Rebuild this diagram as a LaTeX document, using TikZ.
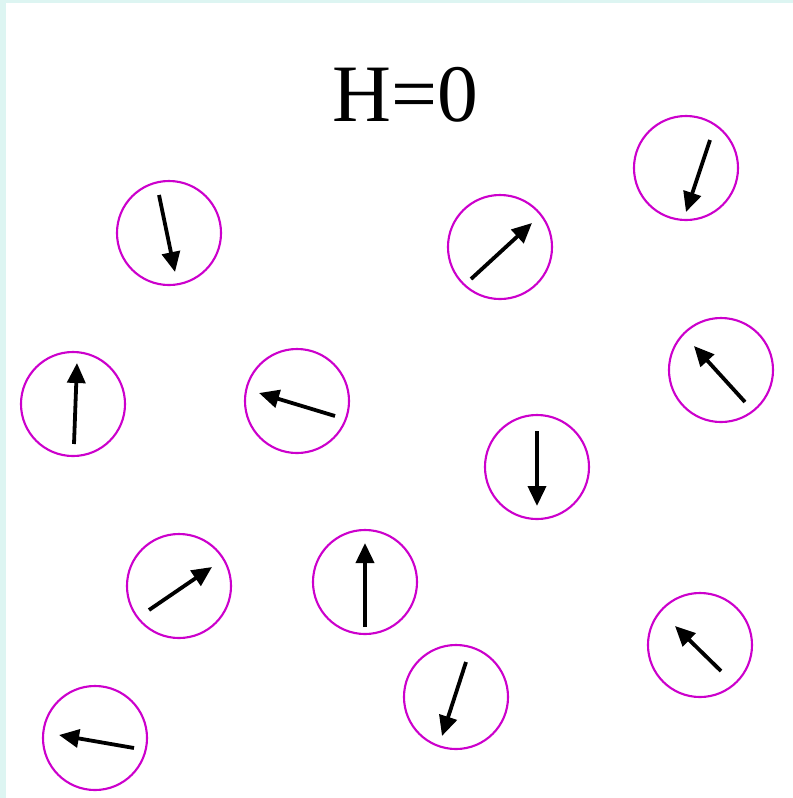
\documentclass[tikz,border=0pt]{standalone}
\usepackage{fontspec}
\setmainfont{Liberation Serif}
\usetikzlibrary{arrows.meta}
\definecolor{spinring}{HTML}{CC00CC}
\definecolor{frame}{HTML}{DDF5F2}
\tikzset{
    spin ring/.style={
        draw=spinring,line width=1.5pt,circle,
        minimum size=2.6cm,inner sep=0pt
    },
    spin arrow/.style={
        line width=2.7pt,
        -{Triangle[length=0.5cm,width=0.45cm]}
    }
}

\begin{document}
\begin{tikzpicture}[x=0.025cm,y=-0.025cm]
\useasboundingbox (0,0) rectangle (793,798);
\fill[frame] (0,0) rectangle (793,798);
\fill[white] (6,3) rectangle (793,798);
\node[font=\fontsize{58}{60}\selectfont] (title) at (405,95) {H=0};
\foreach \i/\cx/\cy/\tx/\ty/\hx/\hy in {
    1/169/233/159/195/175/272,
    2/500/247/471/279/532/223,
    3/686/168/710/140/686/212,
    4/73/404/74/444/77/363,
    5/297/401/335/416/259/393,
    6/721/370/745/402/694/346,
    7/537/467/537/431/537/506,
    8/179/586/149/610/212/567,
    9/365/582/365/627/365/543,
    10/700/645/721/671/675/626,
    11/456/697/466/662/442/736,
    12/95/738/134/748/59/735}
{
    \node[spin ring] (spin_\i) at (\cx,\cy) {};
    \coordinate (tail_\i) at (\tx,\ty);
    \coordinate (head_\i) at (\hx,\hy);
    \draw[spin arrow] (tail_\i) -- (head_\i);
}
\end{tikzpicture}
\end{document}
